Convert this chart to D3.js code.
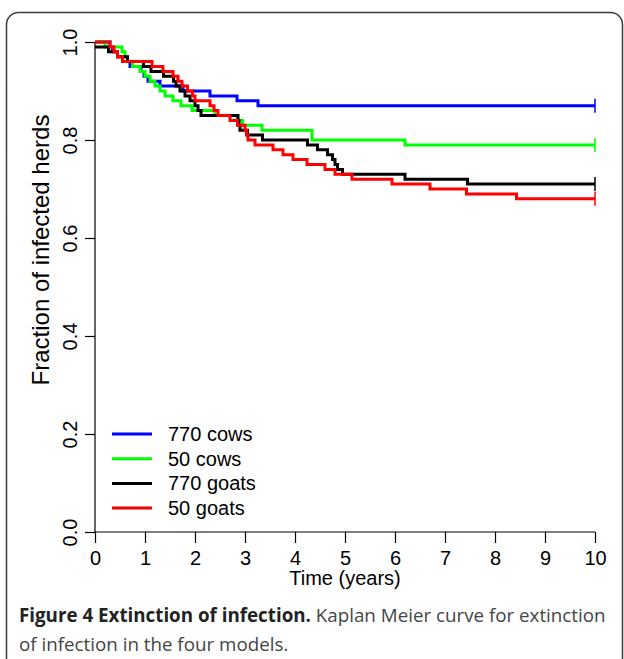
<!DOCTYPE html>
<html>
<head>
<meta charset="utf-8">
<script src="https://cdn.jsdelivr.net/npm/d3@7"></script>
<style>
  body { margin: 0; background: #fff; }
  svg text { font-family: "Liberation Sans", Arial, sans-serif; }
  .caption text { font-family: "Open Sans", sans-serif; }
</style>
</head>
<body>
<script>
// Kaplan Meier step curves, one pair of arrays per model.
// Times are in years, values are the fraction of herds still infected.

const END_TIME = 10;

const cows770Times = [0, 0.3, 0.35, 0.45, 0.55, 0.7, 0.92, 0.98, 1.06, 1.3, 1.76, 2.3, 2.84, 3.26];
const cows770Vals  = [1.0, 0.99, 0.98, 0.97, 0.96, 0.95, 0.94, 0.93, 0.92, 0.91, 0.90, 0.89, 0.88, 0.87];

const cows50Times = [0, 0.2, 0.54, 0.6, 0.65, 0.75, 0.9, 1.0, 1.1, 1.2, 1.3, 1.4, 1.56, 1.72, 1.94, 2.4, 2.85, 2.95, 3.34, 4.34, 6.2];
const cows50Vals  = [1.0, 0.99, 0.98, 0.97, 0.96, 0.95, 0.94, 0.93, 0.92, 0.91, 0.90, 0.89, 0.88, 0.87, 0.86, 0.85, 0.84, 0.83, 0.82, 0.80, 0.79];

const goats770Times = [0, 0.27, 0.45, 0.65, 0.97, 1.12, 1.37, 1.57, 1.62, 1.7, 1.8, 1.9, 2.0, 2.06, 2.12, 2.86, 2.88, 2.9, 3.05, 3.35, 4.25, 4.45, 4.65, 4.75, 4.8, 4.85, 4.95, 6.2, 7.45];
const goats770Vals  = [0.99, 0.98, 0.97, 0.96, 0.95, 0.94, 0.93, 0.92, 0.91, 0.90, 0.89, 0.88, 0.87, 0.86, 0.85, 0.84, 0.83, 0.82, 0.81, 0.80, 0.79, 0.78, 0.77, 0.76, 0.75, 0.74, 0.73, 0.72, 0.71];

const goats50Times = [0, 0.3, 0.38, 0.45, 0.55, 1.14, 1.36, 1.56, 1.66, 1.74, 1.85, 1.95, 2.0, 2.3, 2.38, 2.46, 2.7, 2.85, 3.0, 3.03, 3.06, 3.2, 3.56, 3.76, 3.96, 4.24, 4.6, 4.8, 5.14, 5.94, 6.7, 7.43, 8.43];
const goats50Vals  = [1.0, 0.99, 0.98, 0.97, 0.96, 0.95, 0.94, 0.93, 0.92, 0.91, 0.90, 0.89, 0.88, 0.87, 0.86, 0.85, 0.84, 0.83, 0.82, 0.81, 0.80, 0.79, 0.78, 0.77, 0.76, 0.75, 0.74, 0.73, 0.72, 0.71, 0.70, 0.69, 0.68];

const seriesNames  = ["770 cows", "50 cows", "770 goats", "50 goats"];
const seriesColors = ["#0000ff", "#00ff00", "#000000", "#ff0000"];
const seriesTimes  = [cows770Times, cows50Times, goats770Times, goats50Times];
const seriesVals   = [cows770Vals, cows50Vals, goats770Vals, goats50Vals];

const xTicks = [0, 1, 2, 3, 4, 5, 6, 7, 8, 9, 10];
const yTicks = [0, 0.2, 0.4, 0.6, 0.8, 1.0];

const xTitle = "Time (years)";
const yTitle = "Fraction of infected herds";
const captionBold = "Figure 4 Extinction of infection.";
const captionRest = " Kaplan Meier curve for extinction";
const captionLine2 = "of infection in the four models.";

const W = 624, H = 659;
const plot = { left: 95, right: 595, top: 42, bottom: 532 };
const FONT = 20;

const svg = d3.select("body").append("svg")
  .attr("width", W)
  .attr("height", H);

// outer frame of the figure box
svg.append("rect")
  .attr("x", 6.5).attr("y", 12.5)
  .attr("width", 616).attr("height", 700)
  .attr("rx", 12)
  .attr("fill", "none")
  .attr("stroke", "#3a3a3a")
  .attr("stroke-width", 1.5);

const x = d3.scaleLinear().domain([0, END_TIME]).range([plot.left, plot.right]);
const y = d3.scaleLinear().domain([0, 1]).range([plot.bottom, plot.top]);

// axes, R base graphics look
const xAxis = svg.append("g")
  .attr("transform", `translate(0,${plot.bottom})`)
  .call(d3.axisBottom(x).tickValues(xTicks).tickSize(11).tickPadding(4).tickFormat(d3.format("d")));
const yAxis = svg.append("g")
  .attr("transform", `translate(${plot.left},0)`)
  .call(d3.axisLeft(y).tickValues(yTicks).tickSize(10).tickFormat(d3.format(".1f")));

[xAxis, yAxis].forEach((g) => {
  g.select(".domain").attr("stroke", "#000").attr("stroke-width", 1.2);
  g.selectAll(".tick line").attr("stroke", "#000").attr("stroke-width", 1.2);
  g.selectAll("text").attr("fill", "#000").style("font-size", FONT + "px");
});
xAxis.select(".domain").attr("d", `M${plot.left},0H${plot.right}`);
yAxis.select(".domain").attr("d", `M0,${plot.bottom}V${plot.top}`);

xAxis.selectAll(".tick text").attr("y", 0).attr("dy", 0)
  .attr("transform", "translate(0,33)");

// rotated y tick labels, reading upwards
yAxis.selectAll(".tick text")
  .attr("x", 0).attr("y", 0).attr("dy", 0)
  .attr("text-anchor", "middle")
  .attr("transform", "translate(-18,0) rotate(-90)");

svg.append("text")
  .attr("x", (plot.left + plot.right) / 2)
  .attr("y", 585)
  .attr("text-anchor", "middle")
  .style("font-size", FONT + "px")
  .text(xTitle);

svg.append("text")
  .attr("transform", "translate(49,250) rotate(-90)")
  .attr("text-anchor", "middle")
  .style("font-size", "24px")
  .text(yTitle);

// survival curves
const line = d3.line()
  .curve(d3.curveStepAfter)
  .x((d) => x(d[0]))
  .y((d) => y(d[1]));

seriesNames.forEach((name, i) => {
  const pts = seriesTimes[i].map((t, j) => [t, seriesVals[i][j]]);
  const last = seriesVals[i][seriesVals[i].length - 1];
  pts.push([END_TIME, last]);

  svg.append("path")
    .datum(pts)
    .attr("fill", "none")
    .attr("stroke", seriesColors[i])
    .attr("stroke-width", 3)
    .attr("d", line);

  // censoring mark at the end of follow-up
  svg.append("line")
    .attr("x1", x(END_TIME)).attr("x2", x(END_TIME))
    .attr("y1", y(last) - 7).attr("y2", y(last) + 7)
    .attr("stroke", seriesColors[i])
    .attr("stroke-width", 1.5);
});

// legend
const legend = svg.append("g").attr("transform", "translate(112,434)");
seriesNames.forEach((name, i) => {
  const row = legend.append("g").attr("transform", `translate(0,${i * 24.7})`);
  row.append("line")
    .attr("x1", 0).attr("x2", 40)
    .attr("stroke", seriesColors[i])
    .attr("stroke-width", 3);
  row.append("text")
    .attr("x", 56).attr("y", 7)
    .style("font-size", FONT + "px")
    .text(name);
});

// caption below the chart, squeezed to the reference line width
const caption = svg.append("g").attr("class", "caption");
const line1 = caption.append("text").attr("y", 622).style("font-size", "19px");
line1.append("tspan").attr("font-weight", "bold").attr("fill", "#222").text(captionBold);
line1.append("tspan").attr("fill", "#444").text(captionRest);
const line2 = caption.append("text").attr("y", 651).style("font-size", "19px")
  .attr("fill", "#444").text(captionLine2);

const natural = line1.node().getComputedTextLength();
const k = 587 / natural;
caption.attr("transform", `translate(19,0) scale(${k},1)`);
</script>
</body>
</html>
